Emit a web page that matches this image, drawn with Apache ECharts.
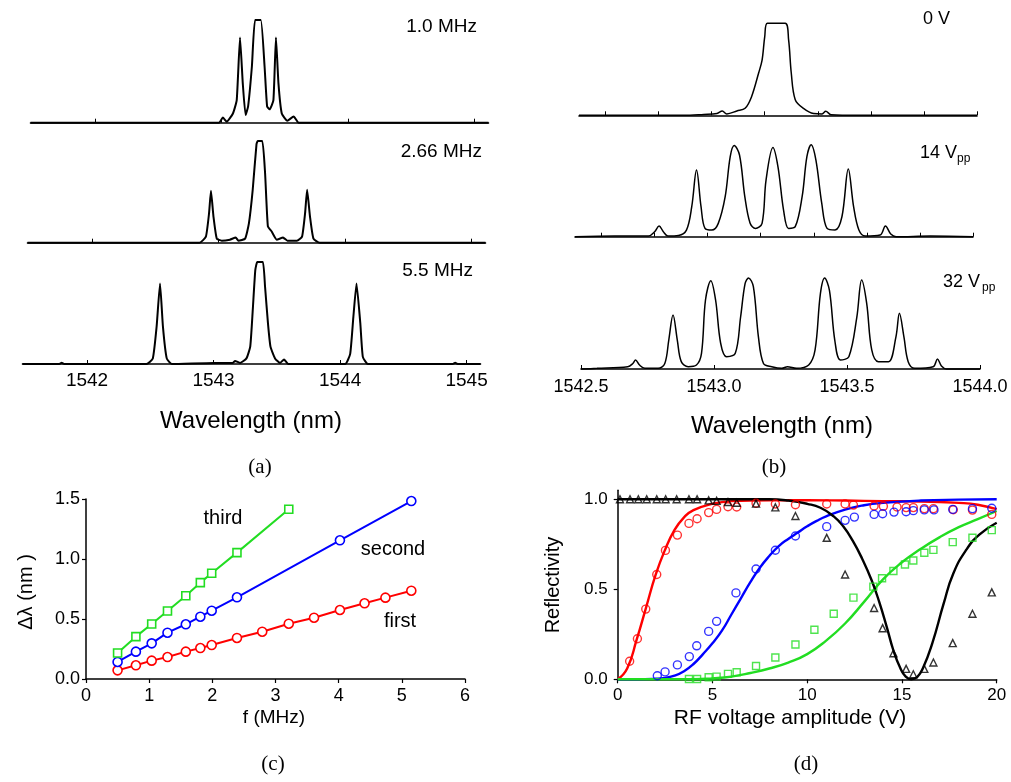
<!DOCTYPE html>
<html>
<head>
<meta charset="utf-8">
<script src="https://cdn.jsdelivr.net/npm/echarts@6/dist/echarts.min.js"></script>
<style>
  html, body { margin: 0; padding: 0; background: #fff; }
  #chart { width: 1011px; height: 782px; }
</style>
</head>
<body>
<div id="chart"></div>
<script>
// ---- (a) transmission spectra, wavelength (nm) vs normalized intensity ----
const specA_1MHz = [[1541.49,0],[1542.98,0],[1543.01,0.05],[1543.04,0.01],[1543.09,0.09],[1543.12,0.22],[1543.146,0.83],[1543.168,0.38],[1543.19,0.075],[1543.21,0.16],[1543.24,0.55],[1543.265,1.0],[1543.31,1.0],[1543.34,0.55],[1543.36,0.16],[1543.38,0.13],[1543.41,0.22],[1543.43,0.83],[1543.45,0.38],[1543.476,0.09],[1543.52,0.02],[1543.57,0.06],[1543.61,0],[1545.11,0]];
const specA_266MHz = [[1541.49,0],[1542.85,0],[1542.90,0.06],[1542.925,0.29],[1542.94,0.51],[1542.96,0.255],[1542.986,0.04],[1543.025,0.02],[1543.09,0.03],[1543.136,0.05],[1543.157,0.02],[1543.21,0.04],[1543.24,0.19],[1543.27,0.52],[1543.30,0.97],[1543.31,1.0],[1543.346,1.0],[1543.368,0.68],[1543.39,0.16],[1543.42,0.11],[1543.46,0.03],[1543.51,0.05],[1543.544,0.02],[1543.62,0.02],[1543.66,0.06],[1543.684,0.29],[1543.70,0.52],[1543.723,0.255],[1543.75,0.04],[1543.80,0],[1545.11,0]];
const specA_55MHz = [[1541.49,0],[1541.78,0],[1541.80,0.012],[1541.82,0],[1542.47,0],[1542.52,0.055],[1542.55,0.366],[1542.577,0.79],[1542.60,0.366],[1542.63,0.055],[1542.67,0],[1543.0,0.01],[1543.15,0.01],[1543.17,0.03],[1543.21,0.01],[1543.26,0.055],[1543.29,0.17],[1543.31,0.53],[1543.33,0.92],[1543.346,1.0],[1543.39,1.0],[1543.407,0.76],[1543.43,0.40],[1543.45,0.17],[1543.486,0.055],[1543.526,0.01],[1543.557,0.045],[1543.59,0],[1544.04,0],[1544.08,0.10],[1544.105,0.46],[1544.13,0.79],[1544.16,0.40],[1544.18,0.07],[1544.22,0],[1544.89,0],[1544.91,0.012],[1544.93,0],[1545.11,0]];
const labelsA = ['1.0 MHz', '2.66 MHz', '5.5 MHz'];
const ticksA = [1542, 1543, 1544, 1545];

// ---- (b) spectra at different drive voltages ----
const specB_0V = [[1542.5,0],[1542.894,0],[1542.97,0.01],[1543.02,0.02],[1543.04,0.047],[1543.057,0.015],[1543.095,0.047],[1543.126,0.076],[1543.15,0.20],[1543.177,0.46],[1543.19,0.60],[1543.20,0.855],[1543.21,1.0],[1543.277,1.0],[1543.29,0.82],[1543.30,0.46],[1543.315,0.17],[1543.346,0.076],[1543.384,0.02],[1543.416,0.015],[1543.43,0.043],[1543.45,0.007],[1543.55,0],[1544.0,0]];
const specB_14V = [[1542.5,0],[1542.65,0.007],[1542.777,0.007],[1542.80,0.054],[1542.817,0.116],[1542.833,0.054],[1542.85,0.007],[1542.89,0.014],[1542.92,0.072],[1542.94,0.326],[1542.958,0.725],[1542.975,0.326],[1542.99,0.09],[1543.016,0.072],[1543.04,0.145],[1543.066,0.435],[1543.085,0.87],[1543.10,0.99],[1543.12,0.888],[1543.14,0.435],[1543.16,0.145],[1543.18,0.09],[1543.205,0.145],[1543.22,0.616],[1543.246,0.97],[1543.265,0.76],[1543.286,0.29],[1543.305,0.09],[1543.33,0.109],[1543.356,0.435],[1543.374,0.87],[1543.39,1.0],[1543.408,0.833],[1543.43,0.362],[1543.45,0.09],[1543.48,0.072],[1543.506,0.217],[1543.53,0.735],[1543.55,0.326],[1543.57,0.072],[1543.594,0.007],[1543.65,0.018],[1543.67,0.116],[1543.69,0.029],[1543.71,0],[1543.84,0.007],[1544.0,0]];
const specB_32V = [[1542.5,0],[1542.56,0.007],[1542.676,0.025],[1542.695,0.06],[1542.705,0.098],[1542.72,0.043],[1542.74,0.007],[1542.79,0.007],[1542.815,0.06],[1542.83,0.315],[1542.846,0.587],[1542.862,0.315],[1542.877,0.08],[1542.903,0.025],[1542.934,0.043],[1542.953,0.17],[1542.968,0.75],[1542.988,0.96],[1543.006,0.75],[1543.025,0.28],[1543.047,0.134],[1543.08,0.17],[1543.10,0.565],[1543.117,0.93],[1543.13,0.99],[1543.148,0.895],[1543.167,0.35],[1543.186,0.06],[1543.217,0.025],[1543.255,0.007],[1543.276,0.025],[1543.31,0.007],[1543.356,0.043],[1543.38,0.207],[1543.40,0.82],[1543.416,0.99],[1543.434,0.855],[1543.454,0.315],[1543.475,0.098],[1543.507,0.134],[1543.537,0.565],[1543.555,0.967],[1543.574,0.714],[1543.593,0.207],[1543.618,0.08],[1543.656,0.08],[1543.684,0.35],[1543.697,0.605],[1543.714,0.35],[1543.73,0.08],[1543.755,0.007],[1543.824,0.025],[1543.84,0.109],[1543.855,0.033],[1543.874,0],[1544.0,0]];
const ticksB_minor = [1542.6, 1542.8, 1543.0, 1543.2, 1543.4, 1543.6, 1543.8, 1544.0];
const ticksB_major = [1542.5, 1543.0, 1543.5, 1544.0];

// ---- (c) sideband separation vs modulation frequency ----
const freqFirst = [0.5, 0.79, 1.04, 1.29, 1.58, 1.81, 1.99, 2.39, 2.79, 3.21, 3.61, 4.02, 4.41, 4.74, 5.15];
const dlFirst = [0.072, 0.114, 0.153, 0.183, 0.228, 0.258, 0.283, 0.342, 0.394, 0.461, 0.511, 0.575, 0.631, 0.678, 0.736];
const freqSecond = [0.5, 0.79, 1.04, 1.29, 1.58, 1.81, 1.99, 2.39, 4.02, 5.15];
const dlSecond = [0.142, 0.228, 0.297, 0.386, 0.456, 0.519, 0.569, 0.681, 1.156, 1.483];
const freqThird = [0.5, 0.79, 1.04, 1.29, 1.58, 1.81, 1.99, 2.39, 3.21];
const dlThird = [0.217, 0.353, 0.458, 0.567, 0.694, 0.803, 0.881, 1.053, 1.414];

// ---- (d) reflectivity vs RF voltage amplitude: measurements ----
const vRed = [0.63,1.04,1.48,2.06,2.52,3.15,3.76,4.19,4.80,5.22,5.82,6.28,7.30,8.32,9.38,11.03,12.0,12.44,13.53,14.02,14.74,15.22,15.60,16.18,16.66,17.71,18.72,19.74];
const rRed = [0.100,0.225,0.390,0.582,0.716,0.801,0.866,0.892,0.926,0.944,0.959,0.957,0.978,0.974,0.970,0.974,0.974,0.968,0.963,0.961,0.957,0.954,0.954,0.948,0.948,0.942,0.940,0.916];
const vBlue = [2.09,2.50,3.15,3.78,4.17,4.80,5.22,6.24,7.30,8.32,9.38,11.03,12.0,12.49,13.53,13.98,14.58,15.22,15.60,16.18,16.69,17.68,18.72,19.74];
const rBlue = [0.020,0.041,0.080,0.126,0.186,0.266,0.322,0.480,0.613,0.717,0.796,0.848,0.883,0.901,0.916,0.920,0.929,0.931,0.937,0.941,0.941,0.944,0.948,0.950];
const vGreen = [3.76,4.19,4.80,5.22,5.82,6.28,7.30,8.32,9.38,10.38,11.40,12.44,13.49,13.95,14.55,15.16,15.60,16.18,16.66,17.68,18.72,19.74];
const rGreen = [0.002,0.002,0.011,0.015,0.030,0.039,0.074,0.121,0.193,0.275,0.364,0.454,0.515,0.561,0.602,0.638,0.660,0.703,0.719,0.762,0.786,0.829];
const vBlack = [0.12,0.65,1.09,1.53,2.06,2.53,3.11,3.76,4.19,4.80,5.22,5.82,6.28,7.30,8.32,9.38,11.03,12.0,13.53,13.98,14.55,15.22,15.60,16.18,16.66,17.68,18.72,19.74];
const rBlack = [1.0,1.0,1.0,1.0,1.0,1.0,1.0,1.0,1.0,0.994,0.991,0.985,0.981,0.976,0.955,0.907,0.786,0.582,0.396,0.284,0.145,0.058,0.028,0.058,0.093,0.201,0.364,0.483];

// ---- (d) model curves ----
const fitRed = [[0,0],[0.5,0.06],[1,0.22],[1.5,0.40],[2,0.58],[2.5,0.72],[3,0.83],[3.5,0.90],[4,0.94],[5,0.975],[6,0.99],[8,0.995],[10,0.995],[12,0.993],[14,0.99],[16,0.988],[18,0.98],[19,0.97],[20,0.945]];
const fitBlue = [[0,0],[1,0],[2,0.003],[2.5,0.008],[3,0.02],[3.5,0.045],[4,0.085],[4.5,0.14],[5,0.20],[5.5,0.27],[6,0.36],[6.5,0.45],[7,0.54],[7.5,0.62],[8,0.685],[8.5,0.74],[9,0.78],[9.5,0.815],[10,0.85],[10.5,0.88],[11,0.905],[12,0.943],[13,0.967],[14,0.98],[16,0.993],[18,0.998],[20,1.0]];
const fitGreen = [[0,0],[4,0],[5,0.005],[6,0.015],[7,0.035],[8,0.06],[9,0.093],[10,0.14],[11,0.215],[12,0.31],[13,0.43],[14,0.555],[15,0.65],[16,0.725],[17,0.79],[18,0.845],[19,0.89],[20,0.935]];
const fitBlack = [[0,1],[8,1],[9,0.993],[10,0.975],[10.7,0.953],[11.4,0.905],[11.9,0.85],[12.4,0.77],[12.9,0.67],[13.4,0.55],[13.8,0.43],[14.2,0.29],[14.55,0.16],[14.9,0.065],[15.2,0.015],[15.5,0],[15.8,0.012],[16.1,0.06],[16.6,0.2],[17.2,0.42],[17.7,0.585],[18.4,0.72],[19.1,0.805],[20,0.87]];

const SANS = 'Liberation Sans, Arial, Helvetica, sans-serif';
const SERIF = 'Liberation Serif, Times New Roman, serif';
const RED = '#ff0000', BLUE = '#0000ff', GREEN = '#22dd22', BLACK = '#000000';

const zip = (xs, ys) => xs.map((x, i) => [x, ys[i]]);

// grid geometry (pixels): index 0-2 = panel (a), 3-5 = panel (b), 6 = (c), 7 = (d)
const grids = [
  { left: 30.5, top: 20, width: 458, height: 102.7 },
  { left: 27.5, top: 141, width: 458, height: 101.7 },
  { left: 22.5, top: 262, width: 458, height: 102 },
  { left: 579, top: 23.3, width: 398, height: 92 },
  { left: 575, top: 144.7, width: 398, height: 92 },
  { left: 581, top: 277, width: 399, height: 92 },
  { left: 86, top: 499, width: 379, height: 180 },
  { left: 617.7, top: 490.3, width: 379, height: 189 }
];

function spectrumX(gridIndex, min, max, tickVals, labelVals, labelFmt, fontSize, margin) {
  return {
    type: 'value', gridIndex, min, max,
    axisLine: { show: true, onZero: false, lineStyle: { color: BLACK, width: 1.6 } },
    axisTick: { show: true, inside: true, length: 4, customValues: tickVals, lineStyle: { color: BLACK, width: 1 } },
    axisLabel: labelVals ? { show: true, customValues: labelVals, formatter: labelFmt, color: BLACK, fontFamily: SANS, fontSize, margin } : { show: false },
    splitLine: { show: false }
  };
}
function hiddenY(gridIndex) {
  return { type: 'value', gridIndex, min: 0, max: 1, show: false, splitLine: { show: false } };
}
function spectrum(idx, data, smooth, width) {
  return {
    type: 'line', xAxisIndex: idx, yAxisIndex: idx, data,
    symbol: 'none', showSymbol: false, smooth, clip: false,
    lineStyle: { color: BLACK, width }, silent: true
  };
}

const xAxes = [
  spectrumX(0, 1541.49, 1545.11, ticksA, null),
  spectrumX(1, 1541.49, 1545.11, ticksA, null),
  spectrumX(2, 1541.49, 1545.11, ticksA, ticksA, v => String(v), 19, 7),
  spectrumX(3, 1542.5, 1544.0, ticksB_minor, null),
  spectrumX(4, 1542.5, 1544.0, ticksB_minor, null),
  spectrumX(5, 1542.5, 1544.0, ticksB_major, ticksB_major, v => v.toFixed(1), 18, 9),
  {
    type: 'value', gridIndex: 6, min: 0, max: 6, interval: 1,
    axisLine: { show: true, onZero: false, lineStyle: { color: BLACK, width: 1.5 } },
    axisTick: { show: true, length: 4, lineStyle: { color: BLACK, width: 1.2 } },
    axisLabel: { color: BLACK, fontFamily: SANS, fontSize: 18, margin: 8 },
    splitLine: { show: false }
  },
  {
    type: 'value', gridIndex: 7, min: 0, max: 20, interval: 5,
    axisLine: { show: true, onZero: false, lineStyle: { color: BLACK, width: 1.5 } },
    axisTick: { show: true, length: 4, lineStyle: { color: BLACK, width: 1.2 } },
    axisLabel: { color: BLACK, fontFamily: SANS, fontSize: 17, margin: 8 },
    splitLine: { show: false }
  }
];

const yAxes = [
  hiddenY(0), hiddenY(1), hiddenY(2), hiddenY(3), hiddenY(4), hiddenY(5),
  {
    type: 'value', gridIndex: 6, min: 0, max: 1.5, interval: 0.5,
    axisLine: { show: true, onZero: false, lineStyle: { color: BLACK, width: 1.5 } },
    axisTick: { show: true, length: 4, lineStyle: { color: BLACK, width: 1.2 } },
    axisLabel: { color: BLACK, fontFamily: SANS, fontSize: 18, margin: 6, formatter: v => v.toFixed(1) },
    splitLine: { show: false }
  },
  {
    type: 'value', gridIndex: 7, min: 0, max: 1.05,
    axisLine: { show: true, onZero: false, lineStyle: { color: BLACK, width: 1.5 } },
    axisTick: { show: true, length: 4, customValues: [0, 0.5, 1.0], lineStyle: { color: BLACK, width: 1.2 } },
    axisLabel: { color: BLACK, fontFamily: SANS, fontSize: 17, margin: 10, customValues: [0, 0.5, 1.0], formatter: v => v.toFixed(1) },
    splitLine: { show: false }
  }
];

function measured(name, xs, ys, color, symbol, size) {
  return {
    name, type: 'line', xAxisIndex: 6, yAxisIndex: 6, data: zip(xs, ys),
    symbol, symbolSize: size, showSymbol: true, clip: false,
    lineStyle: { color, width: 2 },
    itemStyle: { color: '#ffffff', borderColor: color, borderWidth: 1.6 },
    z: 3
  };
}
function points(name, xs, ys, color, symbol, size) {
  return {
    name, type: 'scatter', xAxisIndex: 7, yAxisIndex: 7, data: zip(xs, ys),
    symbol, symbolSize: size, clip: false,
    itemStyle: { color: 'rgba(255,255,255,0)', borderColor: color, borderWidth: 1.4 },
    z: 4
  };
}
function model(name, data, color) {
  return {
    name, type: 'line', xAxisIndex: 7, yAxisIndex: 7, data,
    symbol: 'none', showSymbol: false, smooth: 0.5, clip: false,
    lineStyle: { color, width: 2.4 }, z: 3
  };
}

const series = [
  spectrum(0, specA_1MHz, 0.15, 2), spectrum(1, specA_266MHz, 0.15, 2), spectrum(2, specA_55MHz, 0.15, 2),
  spectrum(3, specB_0V, 0.35, 1.5), spectrum(4, specB_14V, 0.35, 1.5), spectrum(5, specB_32V, 0.35, 1.5),
  measured('first', freqFirst, dlFirst, RED, 'circle', 9),
  measured('second', freqSecond, dlSecond, BLUE, 'circle', 9),
  measured('third', freqThird, dlThird, GREEN, 'rect', 8),
  model('red model', fitRed, RED),
  model('blue model', fitBlue, BLUE),
  model('green model', fitGreen, GREEN),
  model('black model', fitBlack, BLACK),
  points('red data', vRed, rRed, RED, 'circle', 8),
  points('blue data', vBlue, rBlue, BLUE, 'circle', 8),
  points('green data', vGreen, rGreen, GREEN, 'rect', 7),
  points('black data', vBlack, rBlack, BLACK, 'triangle', 7)
];

function txt(text, x, y, font, opts) {
  return Object.assign({
    type: 'text', x, y, silent: true,
    style: Object.assign({ text, font, fill: BLACK, align: 'center', verticalAlign: 'middle' }, (opts && opts.style) || {})
  }, (opts && opts.el) || {});
}

const graphic = [
  // panel (a)
  txt(labelsA[0], 477, 27, '19px ' + SANS, { style: { align: 'right' } }),
  txt(labelsA[1], 482, 152, '19px ' + SANS, { style: { align: 'right' } }),
  txt(labelsA[2], 473, 271, '19px ' + SANS, { style: { align: 'right' } }),
  txt('Wavelength (nm)', 251, 421, '24px ' + SANS),
  txt('(a)', 260, 467, '21px ' + SERIF),
  // panel (b)
  txt('0 V', 923, 19, '18px ' + SANS, { style: { align: 'left' } }),
  txt('14 V', 920, 153, '18px ' + SANS, { style: { align: 'left' } }),
  txt('pp', 957, 159, '12px ' + SANS, { style: { align: 'left' } }),
  txt('32 V', 943, 282, '18px ' + SANS, { style: { align: 'left' } }),
  txt('pp', 982, 288, '12px ' + SANS, { style: { align: 'left' } }),
  txt('Wavelength (nm)', 782, 426, '24px ' + SANS),
  txt('(b)', 774, 467, '21px ' + SERIF),
  // panel (c)
  txt('third', 223, 518, '20px ' + SANS),
  txt('second', 393, 549, '20px ' + SANS),
  txt('first', 400, 621, '20px ' + SANS),
  txt('f (MHz)', 274, 718, '19px ' + SANS),
  txt('Δλ (nm )', 26, 592, '20px ' + SANS, { el: { rotation: Math.PI / 2 } }),
  txt('(c)', 273, 764, '21px ' + SERIF),
  // panel (d)
  txt('Reflectivity', 553, 585, '20px ' + SANS, { el: { rotation: Math.PI / 2 } }),
  txt('RF voltage amplitude (V)', 790, 718, '21px ' + SANS),
  txt('(d)', 806, 764, '21px ' + SERIF)
];

const chart = echarts.init(document.getElementById('chart'), null, { renderer: 'canvas' });
chart.setOption({
  animation: false,
  backgroundColor: '#ffffff',
  grid: grids.map(g => Object.assign({ containLabel: false }, g)),
  xAxis: xAxes,
  yAxis: yAxes,
  series,
  graphic
});
</script>
</body>
</html>
